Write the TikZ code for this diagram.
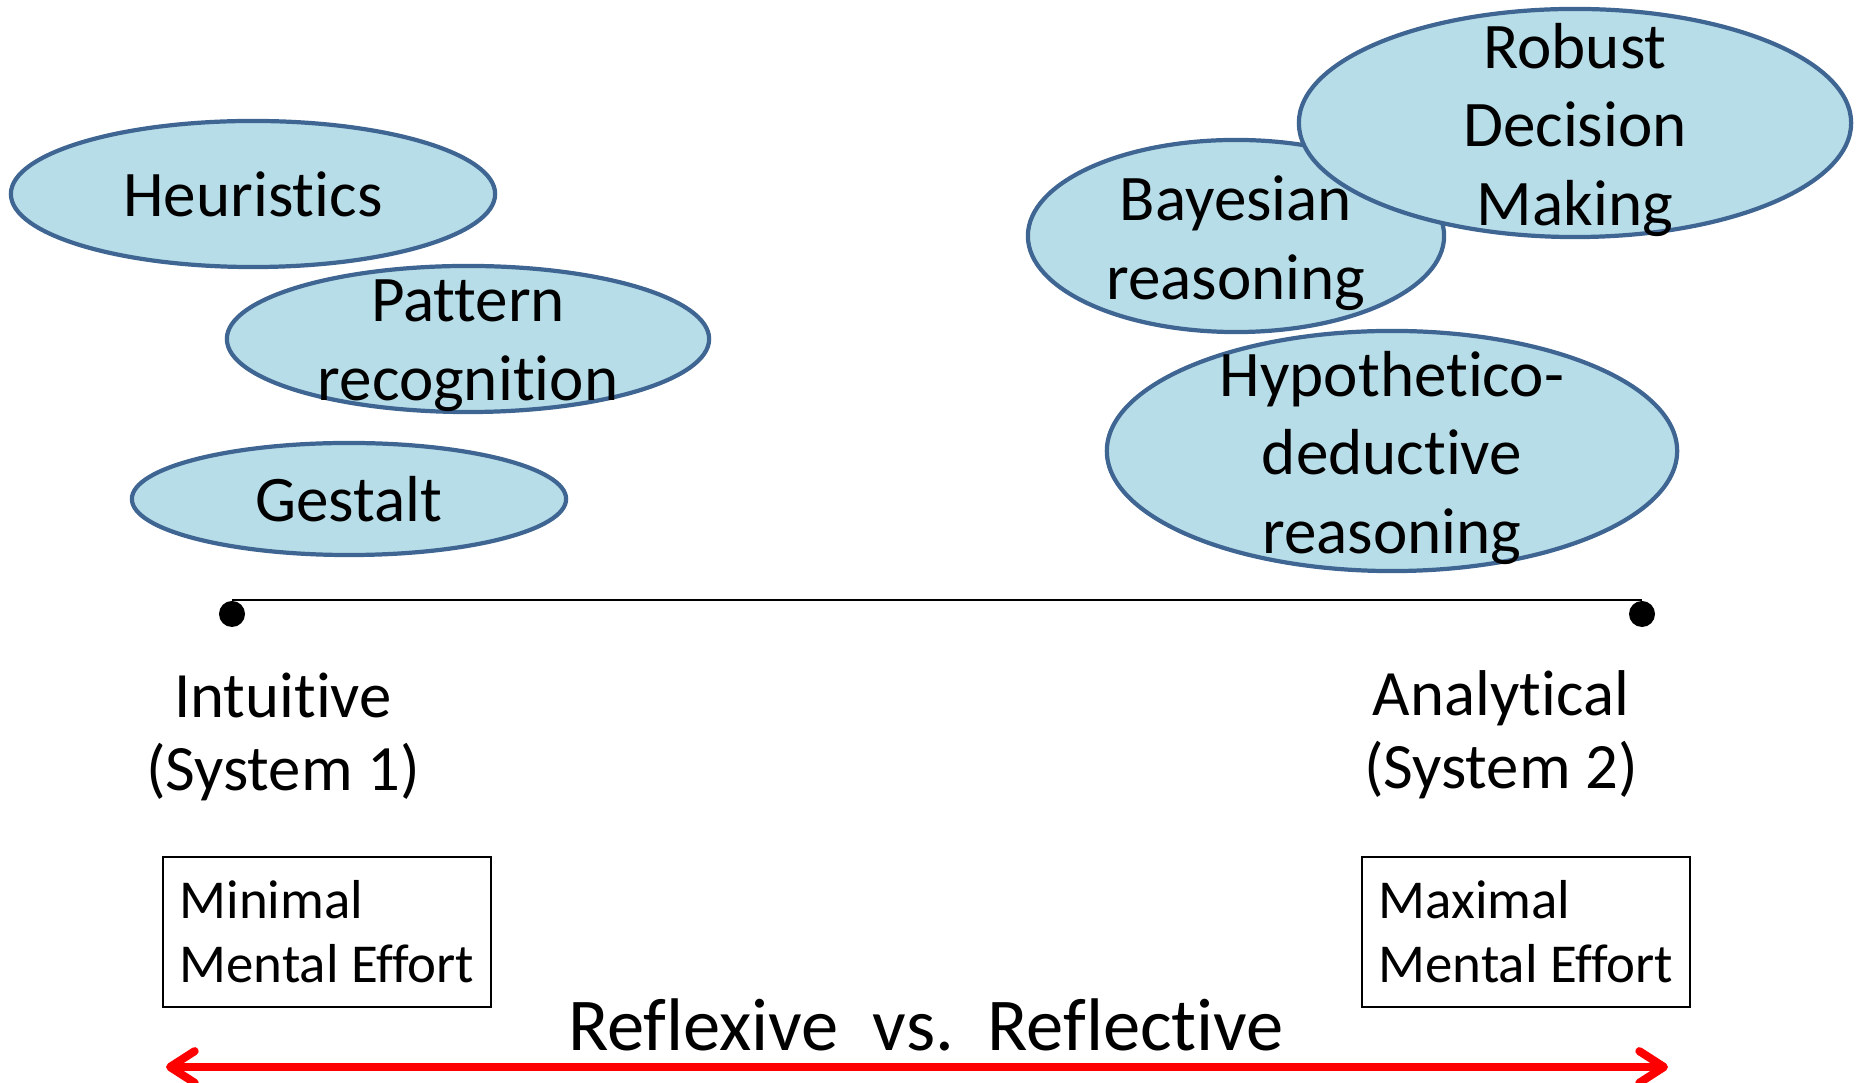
\documentclass[tikz,border=0pt]{standalone}
\usepackage{fontspec}
\setmainfont{Carlito}[Ligatures={NoCommon,NoContextual}]
\usetikzlibrary{shapes.geometric, arrows.meta}
\definecolor{blobfill}{HTML}{B7DDE8}
\definecolor{blobline}{HTML}{3F6592}

\begin{document}
\begin{tikzpicture}[x=0.01cm, y=-0.01cm,
  blob/.style={ellipse, draw=blobline, line width=1.2pt, fill=blobfill, inner sep=0pt},
  blobtext/.style={align=center, font=\fontsize{18.5}{22.4}\selectfont},
  blobtexts/.style={blobtext, yshift=-0.07cm},
  dot/.style={circle, fill=black, inner sep=0pt, minimum size=0.26cm},
  sidelabel/.style={align=center, font=\fontsize{18.4}{20.9}\selectfont, anchor=base},
  effort/.style={draw, line width=0.6pt, minimum width=3.28cm, minimum height=1.5cm, align=left, font=\fontsize{15.6}{18.2}\selectfont}]
\useasboundingbox (0,0) rectangle (1857,1083);

\node[blob, minimum width=4.84cm, minimum height=1.46cm, label={[blobtext]center:Heuristics}] (heuristics) at (253,194) {};
\node[blob, minimum width=4.82cm, minimum height=1.46cm, label={[blobtexts]center:Pattern\\recognition}] (pattern) at (468,339) {};
\node[blob, minimum width=4.34cm, minimum height=1.12cm, label={[blobtext]center:Gestalt}] (gestalt) at (349,499) {};
\node[blob, minimum width=4.16cm, minimum height=1.92cm, label={[blobtexts]center:Bayesian\\reasoning}] (bayesian) at (1236,236) {};
\node[blob, minimum width=5.52cm, minimum height=2.28cm, label={[blobtexts]center:Robust\\Decision\\Making}] (robust) at (1575,123) {};
\node[blob, minimum width=5.70cm, minimum height=2.40cm, label={[blobtexts]center:Hypothetico-\\deductive\\reasoning}] (hypothetico) at (1392,451) {};

\node[dot] (sys1) at (232,614) {};
\node[dot] (sys2) at (1642,614) {};
\draw[line width=0.6pt] (sys1.north) -- (sys2.north);

\node[sidelabel] (intuitive) at (283,791) {Intuitive\\(System 1)};
\node[sidelabel] (analytical) at (1501,789) {Analytical\\(System 2)};

\node[effort] (minimal) at (327,932) {Minimal\\Mental Effort};
\node[effort] (maximal) at (1526,932) {Maximal\\Mental Effort};

\node[font=\fontsize{21.2}{25}\selectfont, anchor=base] (versus) at (926,1051) {Reflexive\ \ vs.\ \ Reflective};
\coordinate (reflexive) at (166,1067);
\coordinate (reflective) at (1668,1067);
\draw[red, line width=2.3pt, {Straight Barb[length=7pt, width=9pt, line cap=round, line join=round]}-{Straight Barb[length=7pt, width=9pt, line cap=round, line join=round]}] (reflexive) -- (reflective);
\end{tikzpicture}
\end{document}
